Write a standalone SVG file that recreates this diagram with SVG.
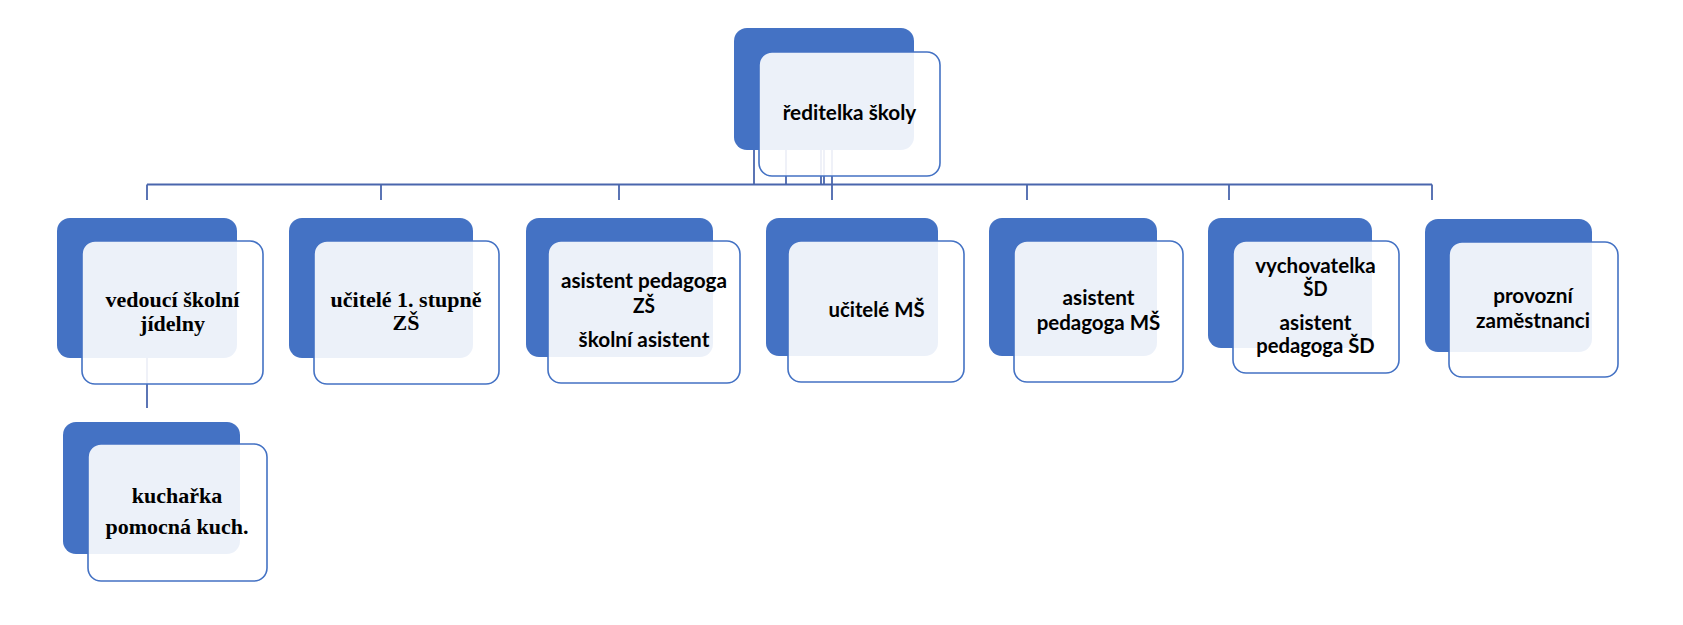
<svg xmlns="http://www.w3.org/2000/svg" width="1683" height="625" viewBox="0 0 1683 625">
<style>
.bk{fill:#4472C4;}
.fr{fill:#ffffff;fill-opacity:0.9;stroke:#4472C4;stroke-width:1.6;}
.cn{stroke:#4a66ad;stroke-width:1.8;fill:none;}
.s{font-family:Lato,"Liberation Sans","DejaVu Sans",sans-serif;font-weight:700;font-size:20.5px;fill:#000;text-anchor:middle;}
.r{font-family:"Liberation Serif","DejaVu Serif",serif;font-weight:700;font-size:22px;fill:#000;text-anchor:middle;}
</style>
<rect width="1683" height="625" fill="#ffffff"/>
<g id="connectors">
<path class="cn" d="M147,184.5 H1432"/>
<path class="cn" d="M147,184.5 V200 M381,184.5 V200 M619,184.5 V200 M832,150 V200 M1027,184.5 V200 M1229,184.5 V200 M1432,184.5 V200"/>
<path class="cn" d="M754,150 V184.5 M786,150 V184.5 M821,150 V184.5 M824,150 V184.5"/>
<path class="cn" d="M147,358 V408"/>
</g>
<g id="n0">
<rect class="bk" x="734" y="28" width="180" height="122" rx="13"/>
<rect class="fr" x="759" y="52" width="181" height="124" rx="13"/>
<text class="s" x="849.5" y="120" textLength="133.6" lengthAdjust="spacingAndGlyphs">ředitelka školy</text>
</g>
<g id="n1">
<rect class="bk" x="57" y="218" width="180" height="140" rx="13"/>
<rect class="fr" x="82" y="241" width="181" height="143" rx="13"/>
<text class="r" x="172.5" y="306.5">vedoucí školní</text>
<text class="r" x="172.5" y="330.5">jídelny</text>
</g>
<g id="n2">
<rect class="bk" x="289" y="218" width="184" height="140" rx="13"/>
<rect class="fr" x="314" y="241" width="185" height="143" rx="13"/>
<text class="r" x="406" y="306.5">učitelé 1. stupně</text>
<text class="r" x="406" y="329.5">ZŠ</text>
</g>
<g id="n3">
<rect class="bk" x="526" y="218" width="187" height="139" rx="13"/>
<rect class="fr" x="548" y="241" width="192" height="142" rx="13"/>
<text class="s" x="644" y="288.3" textLength="166" lengthAdjust="spacingAndGlyphs">asistent pedagoga</text>
<text class="s" x="644" y="312.7" textLength="22" lengthAdjust="spacingAndGlyphs">ZŠ</text>
<text class="s" x="644" y="346.7" textLength="130.8" lengthAdjust="spacingAndGlyphs">školní asistent</text>
</g>
<g id="n4">
<rect class="bk" x="766" y="218" width="172" height="138" rx="13"/>
<rect class="fr" x="788" y="241" width="176" height="141" rx="13"/>
<text class="s" x="876.5" y="316.7" textLength="96.2" lengthAdjust="spacingAndGlyphs">učitelé MŠ</text>
</g>
<g id="n5">
<rect class="bk" x="989" y="218" width="168" height="138" rx="13"/>
<rect class="fr" x="1014" y="241" width="169" height="141" rx="13"/>
<text class="s" x="1098.5" y="305" textLength="72" lengthAdjust="spacingAndGlyphs">asistent</text>
<text class="s" x="1098.5" y="329.5" textLength="123.7" lengthAdjust="spacingAndGlyphs">pedagoga MŠ</text>
</g>
<g id="n6">
<rect class="bk" x="1208" y="218" width="164" height="130" rx="13"/>
<rect class="fr" x="1233" y="241" width="166" height="132" rx="13"/>
<text class="s" x="1315.5" y="273.3" textLength="120.5" lengthAdjust="spacingAndGlyphs">vychovatelka</text>
<text class="s" x="1315.5" y="296" textLength="24.3" lengthAdjust="spacingAndGlyphs">ŠD</text>
<text class="s" x="1315.5" y="330" textLength="72" lengthAdjust="spacingAndGlyphs">asistent</text>
<text class="s" x="1315.5" y="353.3" textLength="118.4" lengthAdjust="spacingAndGlyphs">pedagoga ŠD</text>
</g>
<g id="n7">
<rect class="bk" x="1425" y="219" width="167" height="133" rx="13"/>
<rect class="fr" x="1449" y="242" width="169" height="135" rx="13"/>
<text class="s" x="1533" y="302.7" textLength="79.7" lengthAdjust="spacingAndGlyphs">provozní</text>
<text class="s" x="1533" y="327.7" textLength="114.1" lengthAdjust="spacingAndGlyphs">zaměstnanci</text>
</g>
<g id="n8">
<rect class="bk" x="63" y="422" width="177" height="132" rx="13"/>
<rect class="fr" x="88" y="444" width="179" height="137" rx="13"/>
<text class="r" x="177" y="502.7">kuchařka</text>
<text class="r" x="177" y="534.3">pomocná kuch.</text>
</g>
</svg>
